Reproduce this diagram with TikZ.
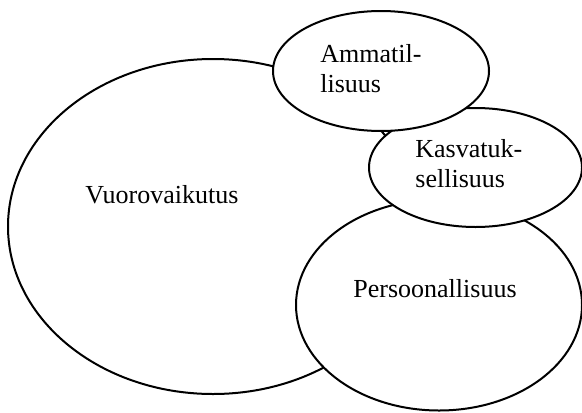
\documentclass[tikz,border=0pt]{standalone}
\usepackage{fontspec}
\setmainfont{Liberation Serif}
\usetikzlibrary{shapes.geometric}
\begin{document}
\begin{tikzpicture}[x=0.5pt,y=-0.5pt,
  circlearea/.style={ellipse,draw=black,fill=white,line width=1pt,inner sep=0pt},
  areatext/.style={inner sep=0pt,anchor=base west,align=left,
    font=\fontsize{13pt}{15pt}\selectfont}]
  \useasboundingbox (0,0) rectangle (582,412);
  % four overlapping areas, later ones lie on top
  \node[circlearea,minimum width=205pt,minimum height=167.5pt] (vuoro) at (213,226.5) {};
  \node[circlearea,minimum width=143pt,minimum height=105.5pt] (persoona) at (439,305) {};
  \node[circlearea,minimum width=106.5pt,minimum height=59.5pt] (kasvatus) at (475.5,167.5) {};
  \node[circlearea,minimum width=108pt,minimum height=60pt] (ammatti) at (381,71) {};
  % labels (two-line labels sit on the baseline of their last line)
  \node[areatext] (tvuoro) at (85,203) {Vuorovaikutus};
  \node[areatext] (tpersoona) at (353,297) {Persoonallisuus};
  \node[areatext] (tkasvatus) at (415,187) {Kasvatuk-\\sellisuus};
  \node[areatext] (tammatti) at (320,92) {Ammatil-\\lisuus};
\end{tikzpicture}
\end{document}
